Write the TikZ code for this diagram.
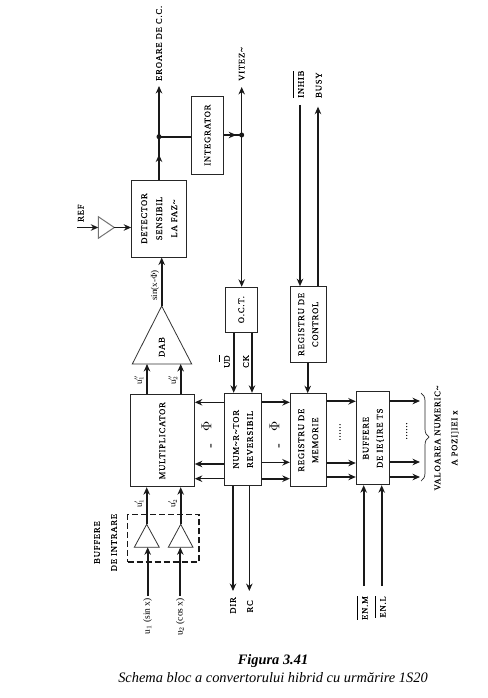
\documentclass[tikz,border=0pt]{standalone}
\usepackage{fontspec}
\setmainfont{Liberation Serif}
\newfontfamily\lab[LetterSpace=9.5,FakeBold=0.25]{Liberation Serif}
\usetikzlibrary{arrows.meta,decorations.pathreplacing}
\newcommand{\barred}[1]{$\overline{\rule{0pt}{9.5pt}\hbox{\lab #1}}$}
\tikzset{
  x=1pt,y=-1pt,
  box/.style={draw=black!85,line width=1pt,inner sep=0pt,align=center,font=\fontsize{8.6}{14}\selectfont\lab},
  lbl/.style={rotate=90,inner sep=0pt,align=center,font=\fontsize{8.6}{15}\selectfont\lab},
  thickw/.style={line width=1.7pt,black!90,-{Stealth[length=7.5pt,width=6.5pt]}},
  thinw/.style={line width=1pt,black!90,-{Stealth[length=7.5pt,width=6.5pt]}},
  plain/.style={line width=1.7pt,black!90},
  tri/.style={draw=black!80,line width=.8pt,fill=white},
  dot/.style={circle,fill=black!90,inner sep=0pt,minimum size=5pt},
}
\newcommand{\bx}[7]{\node[box,minimum width=#4 pt - #2 pt,minimum height=#5 pt - #3 pt] (#1) at ({(#2+#4)/2},{(#3+#5)/2}) {\rotatebox{90}{\begin{tabular}{@{}c@{}}#6\end{tabular}}};}
\begin{document}
\begin{tikzpicture}
\useasboundingbox[fill=white] (0,0) rectangle (487,698);
% blocks
\bx{det}{131.7}{180}{186.7}{257}{DETECTOR\\[1pt] SENSIBIL\\[1pt] LA FAZ\textasciitilde}{}
\bx{integ}{191.3}{96.3}{223.7}{174}{INTEGRATOR}{}
\bx{mult}{130.3}{394.7}{194.3}{486.7}{MULTIPLICATOR}{}
\bx{oct}{225.3}{287.3}{257.3}{332}{O.C.T.}{}
\bx{num}{224.3}{393.3}{261.7}{485.3}{NUM\textasciitilde R\textasciitilde TOR\\ REVERSIBIL}{}
\bx{ctrl}{290.3}{286.7}{326.3}{362}{REGISTRU DE\\ CONTROL}{}
\bx{mem}{290.3}{393.7}{326.3}{486.7}{REGISTRU DE\\ MEMORIE}{}
\bx{buf}{356.3}{391.7}{389.3}{484.7}{BUFFERE\\ DE IE\{IRE TS}{}
% triangles
\coordinate (dabtop) at (161.7,306);
\coordinate (refin) at (98.3,227.5);
\coordinate (refout) at (114.3,227.5);
\coordinate (t1top) at (146.7,524.3);
\coordinate (t2top) at (180.7,524.3);
\draw[tri] (dabtop) -- (191.7,364) -- (132.3,364) -- cycle;
\draw[tri,draw=black!55,line width=1pt] (refout) -- (98.3,216.7) -- (98.3,238.3) -- cycle;
\draw[tri] (t1top) -- (159.3,547.3) -- (134.3,547.3) -- cycle;
\draw[tri] (t2top) -- (193,547.3) -- (168.3,547.3) -- cycle;
\node[lbl] (dabt) at (161.7,347) {DAB};
% dashed box
\node[draw=black!90,dashed,dash pattern=on 6pt off 3pt,line width=1.5pt,minimum width=71.3pt,minimum height=47.3pt,inner sep=0pt] (inbox) at (163.35,538.35) {};
\coordinate (errend) at (159,86);
\coordinate (vitend) at (241.7,87);
\coordinate (refstart) at (77,227.5);
% top connectors
\coordinate (j1c) at (159,136.7);
\coordinate (j2c) at (241.7,135);
\draw[thickw] (det.north -| j1c) -- ++(0,-25);
\draw[plain] (det.north -| j1c) -- (j1c);
\draw[thickw] (j1c) -- (errend);
\draw[plain] (j1c) -- (integ.west |- j1c);
\draw[thickw] (integ.east |- j2c) -- ++(12,0);
\draw[plain] (integ.east |- j2c) -- (j2c);
\draw[line width=1pt,black!90,{Stealth[length=7.5pt,width=6.5pt]}-{Stealth[length=7.5pt,width=6.5pt]}] (vitend) -- (oct.north -| vitend);
\node[dot] (j1) at (j1c) {};
\node[dot] (j2) at (j2c) {};
\draw[thickw] (refstart) -- (refin);
\draw[thickw] (refout) -- (det.west |- refout);
\draw[thickw] (dabtop) -- (det.south -| dabtop);
% multiplicator
\draw[thickw] (mult.north -| 147,0) -- (147,364);
\draw[thickw] (mult.north -| 180.7,0) -- (180.7,364);
\draw[thickw] (t1top) -- (mult.south -| t1top);
\draw[thickw] (t2top) -- (mult.south -| t2top);
\coordinate (u1in) at (147.7,596);
\coordinate (u2in) at (180.3,596);
\draw[thickw] (u1in) -- (147.7,547.3);
\draw[thickw] (u2in) -- (180.3,547.3);
% oct -> num
\draw[thickw] (oct.south -| 233.7,0) -- (num.north -| 233.7,0);
\draw[thickw] (oct.south -| 252,0) -- (num.north -| 252,0);
% num <-> mult
\draw[thinw,line width=1.3pt] (num.west |- 0,402.3) -- (mult.east |- 0,402.3);
\draw[thickw] (num.west |- 0,464) -- (mult.east |- 0,464);
\draw[thinw,line width=1.3pt] (num.west |- 0,478.7) -- (mult.east |- 0,478.7);
% num -> mem
\draw[thickw] (num.east |- 0,402.3) -- (mem.west |- 0,402.3);
\draw[thinw,line width=1.3pt] (num.east |- 0,462.3) -- (mem.west |- 0,462.3);
\draw[thickw] (num.east |- 0,478.7) -- (mem.west |- 0,478.7);
% num outputs
\coordinate (dirend) at (233,591);
\coordinate (rcend) at (249.3,591);
\draw[thickw] (num.south -| dirend) -- (dirend);
\draw[thinw] (num.south -| rcend) -- (rcend);
% control
\coordinate (inhstart) at (300,105);
\coordinate (busyend) at (318,106.7);
\draw[thickw] (inhstart) -- (ctrl.north -| inhstart);
\draw[thickw] (ctrl.north -| busyend) -- (busyend);
\draw[thickw] (ctrl.south -| 307.7,0) -- (mem.north -| 307.7,0);
% mem -> buf
\draw[thickw] (mem.east |- 0,401.3) -- (buf.west |- 0,401.3);
\draw[thickw] (mem.east |- 0,463) -- (buf.west |- 0,463);
\draw[thickw] (mem.east |- 0,477) -- (buf.west |- 0,477);
% buf out
\coordinate (o1) at (420,401);
\coordinate (o2) at (420,462);
\coordinate (o3) at (420,477);
\draw[thickw] (buf.east |- o1) -- (o1);
\draw[thickw] (buf.east |- o2) -- (o2);
\draw[thickw] (buf.east |- o3) -- (o3);
% enables
\coordinate (enm) at (363.7,586);
\coordinate (enl) at (381.7,586);
\draw[thickw] (enm) -- (buf.south -| enm);
\draw[thickw] (enl) -- (buf.south -| enl);
% brace
\coordinate (br1) at (421,481);
\coordinate (br2) at (421,393);
\draw[line width=.7pt,black!85,decorate,decoration={brace,amplitude=8pt}] (br2) -- (br1);
% labels
\node[lbl,anchor=west] (erl) at (159,81) {EROARE DE C.C.};
\node[lbl,anchor=west] (vil) at (241.7,81) {VITEZ\textasciitilde};
\node[lbl,anchor=west] (refl) at (80.7,222) {REF};
\node[lbl,anchor=west,font=\fontsize{9}{10}\selectfont] (sinl) at (155,301) {sin(x-$\Phi$)};
\node[lbl,anchor=west,font=\fontsize{9}{10}\selectfont] (u1a) at (139,385) {u$_1''$};
\node[lbl,anchor=west,font=\fontsize{9}{10}\selectfont] (u2a) at (173,385) {u$_2''$};
\node[lbl,anchor=west,font=\fontsize{9}{10}\selectfont] (u1b) at (139,508) {u$_1'$};
\node[lbl,anchor=west,font=\fontsize{9}{10}\selectfont] (u2b) at (172.7,508) {u$_2'$};
\node[lbl,anchor=east,font=\fontsize{9.5}{10}\selectfont] (u1c) at (147.7,598) {u$_1$ (sin x)};
\node[lbl,anchor=east,font=\fontsize{9.5}{10}\selectfont] (u2c) at (180.3,598) {u$_2$ (cos x)};
\node[lbl,anchor=center] (bufin) at (105.5,542.5) {BUFFERE\\[2pt] DE INTRARE};
\node[lbl,anchor=west] (udl) at (224,368) {U\barred{D}};
\node[lbl,anchor=west] (ckl) at (246,368) {CK};
\node[lbl,anchor=west] (inhl) at (298,98) {\barred{INHIB}};
\node[lbl,anchor=west] (busyl) at (318.7,98) {BUSY};
\node[lbl,anchor=east] (dirl) at (233,597) {DIR};
\node[lbl,anchor=east] (rcl) at (250,600) {RC};
\node[lbl,anchor=east] (enml) at (362,596) {\barred{EN.M}};
\node[lbl,anchor=east] (enll) at (380,596) {\barred{EN.L}};
\node[lbl,font=\fontsize{14}{14}\selectfont] (ph1) at (208,435) {\raisebox{-3pt}{-}\hspace{12pt}$\Phi$};
\node[lbl,font=\fontsize{14}{14}\selectfont] (ph2) at (276,435) {\raisebox{-3pt}{-}\hspace{12pt}$\Phi$};
\node[lbl] (d1) at (340,432) {......};
\node[lbl] (d2) at (406.7,431) {......};
\node[lbl] (val) at (446.5,438) {VALOAREA NUMERIC\textasciitilde\\[2pt] A POZI]IEI x};
% caption
\node[inner sep=0pt,font=\fontsize{14.4}{15}\selectfont\bfseries\itshape] (cap1) at (273,661.5) {Figura 3.41};
\node[inner sep=0pt,font=\fontsize{14.4}{15}\selectfont\itshape] (cap2) at (273,678) {Schema bloc a convertorului hibrid cu urmărire 1S20};
\end{tikzpicture}
\end{document}
